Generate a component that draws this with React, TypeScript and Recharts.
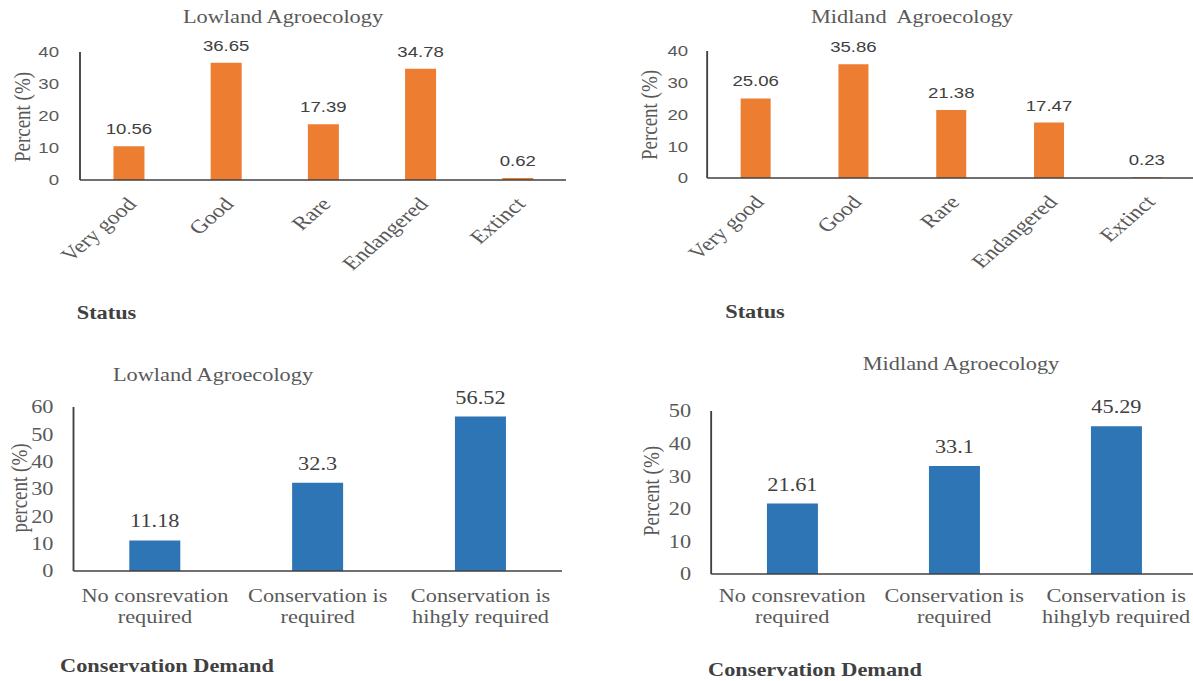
import { BarChart, Bar, XAxis, YAxis, LabelList } from 'recharts';

const statusCategories = ['Very good', 'Good', 'Rare', 'Endangered', 'Extinct'];
const lowlandStatus = [10.56, 36.65, 17.39, 34.78, 0.62];
const midlandStatus = [25.06, 35.86, 21.38, 17.47, 0.23];
const statusTicks = [0, 10, 20, 30, 40];

const lowlandDemandCategories = ['No consrevation\nrequired', 'Conservation is\nrequired', 'Conservation is\nhihgly required'];
const midlandDemandCategories = ['No consrevation\nrequired', 'Conservation is\nrequired', 'Conservation is\nhihglyb required'];
const lowlandDemand = [11.18, 32.3, 56.52];
const midlandDemand = [21.61, 33.1, 45.29];
const lowlandDemandTicks = [0, 10, 20, 30, 40, 50, 60];
const midlandDemandTicks = [0, 10, 20, 30, 40, 50];

const ORANGE = '#ED7D31';
const BLUE = '#2E75B6';
const TEXT = '#595959';
const DARK = '#404040';
const SERIF = '"Liberation Serif", "Times New Roman", serif';
const SANS = '"Liberation Sans", Arial, sans-serif';

// the original figure is stretched sideways, so everything is laid out
// in a narrower box and widened with scaleX
const SX = 1.24;
const ix = (v: number) => v / SX;

const toRows = (cats: string[], vals: number[]) => cats.map((name, i) => ({ name, value: vals[i] }));

// x labels turned, ending under the bar
const RotatedTick = (props: any) => {
  const { x, y, payload } = props;
  const ax = x + ix(9);
  const ay = y + 25;
  return (
    <text x={ax} y={ay} transform={`rotate(-47, ${ax}, ${ay})`} textAnchor="end" fontFamily={SERIF} fontSize={19} fill={TEXT}>
      {payload.value}
    </text>
  );
};

// two line labels for the demand charts
const makeWrapTick = (first: number) => (props: any) => {
  const { x, y, payload } = props;
  const lines = String(payload.value).split('\n');
  return (
    <text x={x} y={y + first} textAnchor="middle" fontFamily={SERIF} fontSize={18} fill={TEXT}>
      {lines.map((l, i) => (
        <tspan key={i} x={x} dy={i === 0 ? 0 : 21}>{l}</tspan>
      ))}
    </text>
  );
};

const Abs = ({ left, top, children, style }: any) => (
  <div style={{ position: 'absolute', left: ix(left), top, transform: 'translate(-50%, -50%)', whiteSpace: 'pre', lineHeight: 1, ...style }}>
    {children}
  </div>
);

const YTitle = ({ left, top, text }: any) => (
  <div style={{ position: 'absolute', left: ix(left), top, transform: 'translate(-50%, -50%) rotate(-90deg)', whiteSpace: 'pre', lineHeight: 1, fontFamily: SERIF, fontSize: 19, color: TEXT }}>
    {text}
  </div>
);

type Box = { left: number; top: number; axisX: number; plotRight: number; plotTop: number; plotBottom: number; height: number };

// turns a plot area measured in real pixels into a chart box + margins
const layout = (b: Box) => {
  const left = ix(b.left);
  const width = ix(b.plotRight) - left + 6;
  return {
    style: { position: 'absolute' as const, left, top: b.top },
    width,
    height: b.height,
    margin: {
      top: b.plotTop - b.top,
      left: ix(b.axisX) - left - 50,
      right: 6,
      bottom: b.top + b.height - b.plotBottom - 30,
    },
  };
};

function StatusChart({ values, box, barSize, tickGap }: { values: number[]; box: Box; barSize: number; tickGap: number }) {
  const l = layout(box);
  return (
    <div style={l.style}>
      <BarChart width={l.width} height={l.height} data={toRows(statusCategories, values)} margin={l.margin}>
        <XAxis dataKey="name" tickLine={false} tickSize={0} tickMargin={0} height={30} interval={0}
          axisLine={{ stroke: DARK, strokeWidth: 1.5 }} tick={<RotatedTick />} />
        <YAxis width={50} domain={[0, 40]} ticks={statusTicks} tickLine={false} tickSize={0} tickMargin={ix(tickGap)}
          axisLine={{ stroke: DARK, strokeWidth: 1.5 }}
          tick={{ fontFamily: SANS, fontSize: 15, fill: TEXT }} />
        <Bar dataKey="value" fill={ORANGE} barSize={ix(barSize)} isAnimationActive={false}>
          <LabelList dataKey="value" position="top" offset={12} style={{ fontFamily: SANS, fontSize: 15, fill: DARK }} />
        </Bar>
      </BarChart>
    </div>
  );
}

function DemandChart({ categories, values, ticks, box, barSize, firstLine }:
  { categories: string[]; values: number[]; ticks: number[]; box: Box; barSize: number; firstLine: number }) {
  const l = layout(box);
  const WrapTick = makeWrapTick(firstLine);
  return (
    <div style={l.style}>
      <BarChart width={l.width} height={l.height} data={toRows(categories, values)} margin={l.margin}>
        <XAxis dataKey="name" tickLine={false} tickSize={0} tickMargin={0} height={30} interval={0}
          axisLine={{ stroke: DARK, strokeWidth: 1.5 }} tick={<WrapTick />} />
        <YAxis width={50} domain={[0, ticks[ticks.length - 1]]} ticks={ticks} tickLine={false} tickSize={0} tickMargin={ix(20)}
          axisLine={{ stroke: DARK, strokeWidth: 1.5 }}
          tick={{ fontFamily: SERIF, fontSize: 18, fill: TEXT }} />
        <Bar dataKey="value" fill={BLUE} barSize={ix(barSize)} isAnimationActive={false}>
          <LabelList dataKey="value" position="top" offset={13} style={{ fontFamily: SERIF, fontSize: 18, fill: DARK }} />
        </Bar>
      </BarChart>
    </div>
  );
}

export default function App() {
  const title = { fontFamily: SERIF, fontSize: 18, color: TEXT };
  const bold = { fontFamily: SERIF, fontSize: 18, fontWeight: 'bold', color: DARK };
  return (
    <div style={{ position: 'absolute', left: 0, top: 0, width: 1193, height: 681, background: '#fff', overflow: 'hidden' }}>
      <div style={{ position: 'absolute', left: 0, top: 0, width: ix(1193), height: 681, transform: `scaleX(${SX})`, transformOrigin: '0 0' }}>
        <StatusChart values={lowlandStatus} barSize={31} tickGap={21}
          box={{ left: 0, top: 0, axisX: 80, plotRight: 566, plotTop: 52, plotBottom: 180, height: 330 }} />
        <StatusChart values={midlandStatus} barSize={30} tickGap={19}
          box={{ left: 600, top: 0, axisX: 707, plotRight: 1196, plotTop: 51, plotBottom: 178, height: 330 }} />
        <DemandChart categories={lowlandDemandCategories} values={lowlandDemand} ticks={lowlandDemandTicks}
          barSize={51} firstLine={31}
          box={{ left: 0, top: 340, axisX: 73.5, plotRight: 562, plotTop: 407, plotBottom: 571, height: 341 }} />
        <DemandChart categories={midlandDemandCategories} values={midlandDemand} ticks={midlandDemandTicks}
          barSize={51} firstLine={28}
          box={{ left: 600, top: 340, axisX: 711, plotRight: 1197, plotTop: 411, plotBottom: 574, height: 341 }} />

        <Abs left={283} top={17} style={title}>Lowland Agroecology</Abs>
        <Abs left={912} top={17} style={title}>{'Midland  Agroecology'}</Abs>
        <Abs left={213} top={375} style={title}>Lowland Agroecology</Abs>
        <Abs left={961} top={364} style={title}>Midland Agroecology</Abs>

        <YTitle left={22} top={117} text="Percent (%)" />
        <YTitle left={649} top={115} text="Percent (%)" />
        <YTitle left={18} top={488} text="percent (%)" />
        <YTitle left={651} top={491} text="Percent (%)" />

        <Abs left={106.5} top={313} style={bold}>Status</Abs>
        <Abs left={755} top={312} style={bold}>Status</Abs>
        <Abs left={167} top={666} style={bold}>Conservation Demand</Abs>
        <Abs left={815} top={670} style={bold}>Conservation Demand</Abs>
      </div>
    </div>
  );
}
